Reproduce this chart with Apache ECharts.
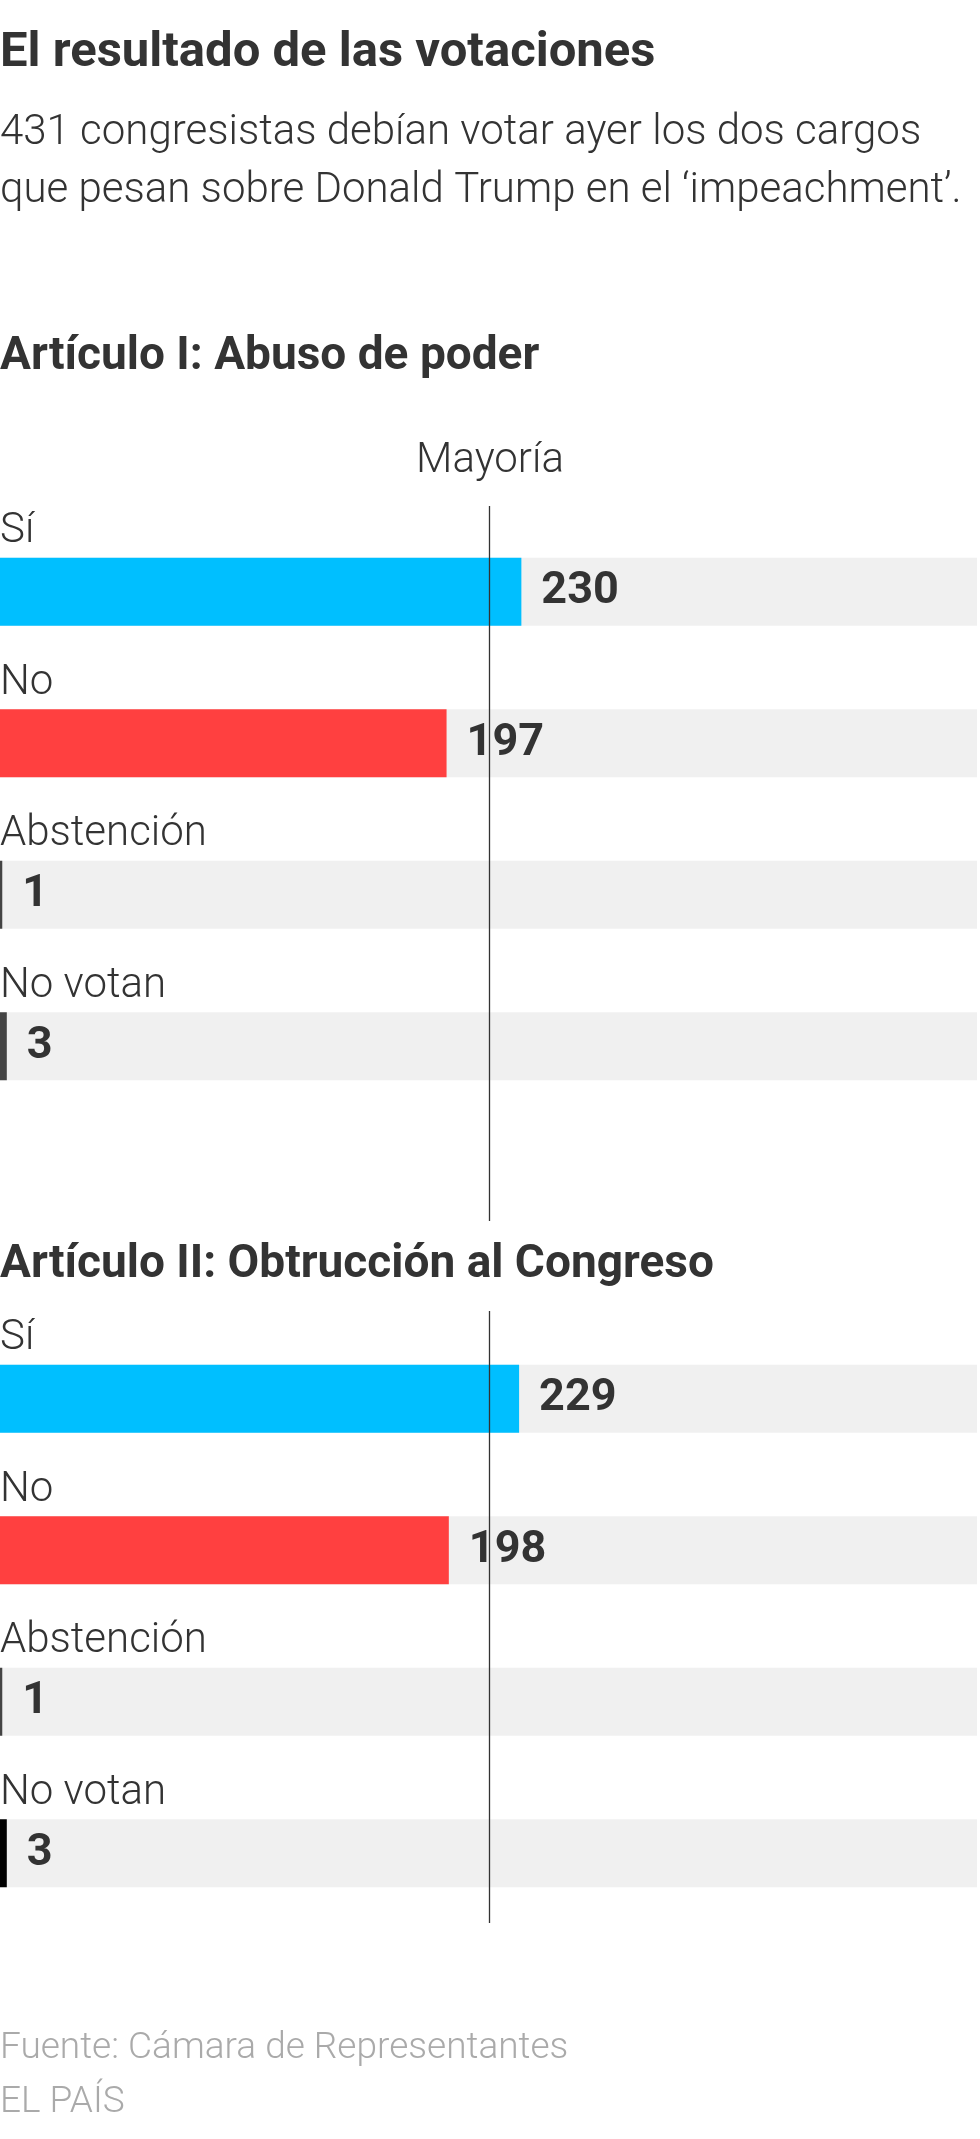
<!DOCTYPE html>
<html lang="es">
<head>
<meta charset="UTF-8">
<title>El resultado de las votaciones</title>
<script src="https://cdn.jsdelivr.net/npm/echarts@6/dist/echarts.min.js"></script>
<style>
    html, body { margin: 0; padding: 0; background: #fff; }
    #chart { width: 980px; height: 2139px; }
</style>
</head>
<body>
<div id="chart"></div>
<script>
    // datos
    var categories = ['Sí', 'No', 'Abstención', 'No votan'];
    var art1Values = [230, 197, 1, 3];
    var art2Values = [229, 198, 1, 3];
    var art1Colors = ['#00bfff', '#ff4040', '#444444', '#444444'];
    var art2Colors = ['#00bfff', '#ff4040', '#444444', '#000000'];
    var totalSeats = 431;
    var majority = 216;

    var chart = echarts.init(document.getElementById('chart'));
    var font = 'Roboto';

    function bgSeries(idx) {
        return {
            type: 'bar', xAxisIndex: idx, yAxisIndex: idx, barWidth: 68, barGap: '-100%',
            silent: true, z: 1,
            data: categories.map(function () { return totalSeats; }),
            itemStyle: {color: '#f0f0f0'},
            label: {
                show: true, formatter: '{b}', position: [0, -26], verticalAlign: 'middle', align: 'left',
                fontFamily: font, fontWeight: 300, fontSize: 42, color: '#333'
            }
        };
    }
    function valSeries(idx, values, colors) {
        return {
            type: 'bar', xAxisIndex: idx, yAxisIndex: idx, barWidth: 68, barGap: '-100%', z: 2,
            data: values.map(function (v, i) { return {value: v, itemStyle: {color: colors[i]}}; }),
            label: {
                show: true, position: 'right', distance: 20,
                fontFamily: font, fontWeight: 'bold', fontSize: 45, color: '#333'
            }
        };
    }
    function lineSeries(idx) {
        return {
            type: 'line', xAxisIndex: idx, yAxisIndex: idx, data: [], z: 5,
            markLine: {
                silent: true, symbol: 'none', label: {show: false},
                lineStyle: {color: '#333', width: 1.3, type: 'solid'},
                data: [{xAxis: majority}]
            }
        };
    }

    var grids = [
        {left: 0, right: 3, top: 516, height: 606},
        {left: 0, right: 3, top: 1323, height: 606},
        {left: 0, right: 3, top: 506, height: 715},
        {left: 0, right: 3, top: 1311, height: 612}
    ];
    var xAxes = grids.map(function (g, i) {
        return {gridIndex: i, type: 'value', min: 0, max: totalSeats, show: false};
    });
    var yAxes = grids.map(function (g, i) {
        return i < 2 ? {gridIndex: i, type: 'category', inverse: true, data: categories, show: false}
                     : {gridIndex: i, type: 'value', min: 0, max: 1, show: false};
    });

    chart.setOption({
        animation: false,
        grid: grids,
        xAxis: xAxes,
        yAxis: yAxes,
        graphic: [
            {type: 'text', left: 0, top: 29, style: {text: 'El resultado de las votaciones', font: 'bold 49px Roboto', fill: '#333'}},
            {type: 'text', left: 0, top: 104, style: {text: '431 congresistas debían votar ayer los dos cargos\nque pesan sobre Donald Trump en el ‘impeachment’.', font: '300 42px Roboto', lineHeight: 58, fill: '#333'}},
            {type: 'text', left: 0, top: 334, style: {text: 'Artículo I: Abuso de poder', font: 'bold 46px Roboto', fill: '#333'}},
            {type: 'text', x: 490, y: 461, style: {text: 'Mayoría', font: '300 42px Roboto', fill: '#333', align: 'center', verticalAlign: 'middle'}},
            {type: 'text', left: 0, top: 1242, style: {text: 'Artículo II: Obtrucción al Congreso', font: 'bold 46px Roboto', fill: '#333'}},
            {type: 'text', left: 0, top: 2030, style: {text: 'Fuente: Cámara de Representantes', font: '300 37px Roboto', fill: '#aaa'}},
            {type: 'text', left: 0, top: 2084, style: {text: 'EL PAÍS', font: '300 37px Roboto', fill: '#aaa'}}
        ],
        series: [
            bgSeries(0), valSeries(0, art1Values, art1Colors),
            bgSeries(1), valSeries(1, art2Values, art2Colors),
            lineSeries(2), lineSeries(3)
        ]
    });
</script>
</body>
</html>
